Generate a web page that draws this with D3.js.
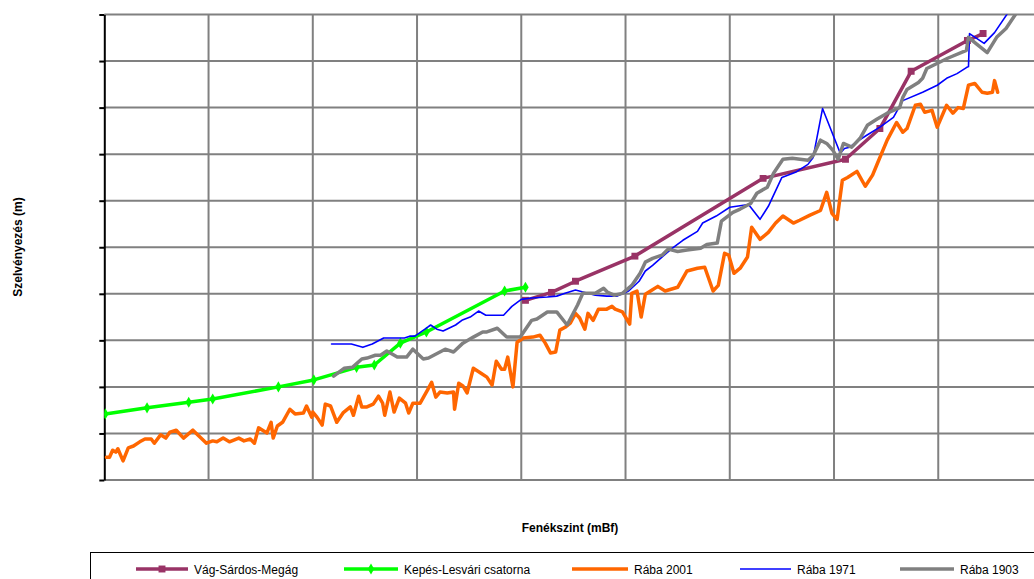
<!DOCTYPE html>
<html>
<head>
<meta charset="utf-8">
<script src="https://cdn.jsdelivr.net/npm/d3@7"></script>
<style>
  body { margin: 0; background: #fff; }
  svg { display: block; font-family: "Liberation Sans", Arial, sans-serif; }
</style>
</head>
<body>
<svg id="chart" width="1034" height="579"></svg>
<script>
// grid ticks (the original chart shows no tick labels)
const xTicks = d3.range(0, 91, 10);
const yTicks = d3.range(0, 101, 10);

// series values [x, y]
const vagSardos = [[40.4,38.6],[42.9,40.3],[45.2,42.7],[50.9,48.1],[63.2,64.8],[71.1,68.9],[74.4,75.5],[77.4,87.8],[82.8,94.4],[84.3,95.9]];

const kepesLesvari = [[0.1,14.2],[4.1,15.5],[8.1,16.7],[10.4,17.4],[16.7,20.0],[20.1,21.5],[24.2,24.2],[25.9,24.7],[28.4,29.4],[30.9,31.8],[38.4,40.6],[40.4,41.4]];

const raba2001 = [[0.2,4.9],[0.5,4.9],[0.8,6.4],[1.1,6.0],[1.3,6.7],[1.8,4.1],[2.3,6.9],[2.8,7.3],[3.4,8.2],[3.9,8.8],[4.5,8.8],[4.8,7.9],[5.4,9.7],[5.9,9.0],[6.3,10.3],[6.9,10.7],[7.6,9.0],[8.5,10.7],[9.1,9.4],[9.8,7.9],[10.4,8.4],[10.8,8.2],[11.4,9.0],[12.0,8.2],[12.9,9.0],[13.4,8.4],[14.0,8.8],[14.4,7.9],[14.8,11.2],[15.6,10.1],[16.0,12.4],[16.2,9.0],[16.6,11.6],[17.1,12.4],[17.8,15.2],[18.3,14.2],[19.1,14.4],[19.4,15.9],[19.9,13.5],[20.0,14.6],[20.4,13.5],[20.9,11.8],[21.2,16.3],[21.7,15.9],[22.3,12.4],[22.9,14.4],[23.6,15.7],[23.9,13.9],[24.4,18.0],[24.7,15.7],[25.2,15.7],[25.8,16.3],[26.3,18.0],[26.7,16.5],[26.9,13.9],[27.4,18.9],[27.8,14.6],[28.3,17.6],[28.9,16.5],[29.2,14.4],[29.6,16.5],[30.3,16.5],[31.0,19.3],[31.4,21.0],[31.8,17.8],[32.2,18.9],[32.9,18.7],[33.5,18.9],[33.6,15.2],[34.0,20.8],[34.4,20.2],[34.8,18.7],[35.4,24.0],[36.1,23.0],[36.7,22.1],[37.2,20.4],[37.6,25.5],[38.1,23.8],[38.4,23.8],[38.7,26.4],[39.2,20.0],[39.6,29.6],[40.2,30.5],[41.1,30.7],[41.8,31.1],[42.3,29.4],[42.8,27.3],[43.3,27.5],[43.7,32.2],[44.2,32.8],[44.7,33.7],[45.2,35.8],[45.6,34.8],[46.1,32.4],[46.4,35.8],[46.9,34.3],[47.4,36.7],[48.2,36.7],[48.7,37.3],[49.0,36.7],[49.7,36.1],[50.4,33.5],[50.6,40.1],[51.1,40.6],[51.5,35.0],[51.9,39.9],[52.4,40.6],[53.1,41.6],[53.8,40.6],[55.0,41.4],[55.9,44.9],[56.9,45.5],[57.6,45.7],[58.4,40.6],[58.9,41.8],[59.5,48.7],[59.9,48.3],[60.4,44.4],[61.0,45.5],[61.7,47.9],[62.1,54.3],[62.9,51.7],[63.7,53.2],[64.4,55.2],[65.1,56.7],[66.1,55.2],[66.7,55.8],[67.7,56.9],[68.7,57.9],[69.3,61.8],[69.8,57.3],[70.3,56.0],[70.8,64.4],[71.3,65.0],[72.2,66.3],[73.0,63.1],[73.7,65.5],[74.2,68.2],[75.1,73.0],[76.0,76.8],[76.6,74.7],[77.0,75.5],[77.8,80.5],[78.3,80.7],[78.7,79.0],[79.4,79.4],[79.9,75.8],[80.8,80.5],[81.4,78.8],[81.9,80.0],[82.4,79.8],[82.9,84.8],[83.5,85.2],[84.2,83.3],[84.7,83.1],[85.2,83.3],[85.4,85.8],[85.7,83.3]];

const raba1971 = [[21.8,29.2],[23.7,29.2],[24.8,28.5],[25.7,29.2],[26.8,30.5],[28.8,30.5],[29.3,30.9],[29.8,30.9],[31.0,32.8],[31.3,33.3],[31.9,32.4],[32.5,32.0],[33.7,33.3],[34.3,34.3],[35.1,35.0],[35.9,36.3],[36.6,35.4],[38.3,35.4],[39.1,37.3],[40.0,38.8],[41.0,39.1],[42.5,39.3],[43.4,39.5],[44.2,40.1],[45.2,40.8],[46.1,40.3],[47.1,39.7],[48.2,39.5],[49.2,39.5],[50.3,40.6],[51.3,42.7],[51.9,44.9],[52.6,46.1],[53.6,48.1],[54.5,49.8],[55.5,51.5],[56.9,53.4],[57.4,55.2],[58.7,56.7],[60.0,58.6],[61.8,59.2],[62.9,56.0],[63.7,58.8],[65.0,65.0],[66.3,66.1],[67.5,67.8],[68.0,69.3],[68.9,79.8],[70.6,70.2],[71.0,71.2],[71.5,71.5],[72.2,72.7],[73.1,74.0],[74.4,75.8],[75.7,77.9],[76.6,81.5],[78.5,83.3],[79.9,84.8],[80.8,86.3],[81.8,87.3],[82.7,88.6],[82.9,88.8],[83.0,95.9],[84.4,93.8],[85.4,96.1],[86.7,100.4]];

const raba1903 = [[22.0,22.3],[23.0,24.0],[23.8,24.2],[24.7,26.0],[25.2,26.2],[26.0,26.8],[26.5,26.8],[27.1,27.7],[28.1,26.4],[29.0,26.4],[29.6,28.1],[30.6,26.0],[31.1,26.2],[32.7,28.1],[33.5,27.5],[34.4,29.4],[35.4,30.7],[36.3,31.8],[36.7,31.8],[37.7,32.6],[38.6,30.7],[39.9,30.7],[41.0,34.3],[41.5,34.6],[42.5,36.1],[43.4,36.1],[44.4,33.3],[45.4,37.6],[45.9,40.1],[47.1,40.1],[47.9,41.2],[48.3,40.3],[48.9,39.7],[49.7,40.1],[50.6,41.8],[51.4,44.4],[51.9,46.8],[52.6,47.6],[53.5,48.3],[54.1,49.6],[55.0,49.1],[55.9,49.4],[57.2,49.8],[57.8,50.6],[58.8,50.9],[59.2,55.6],[60.3,57.5],[61.0,58.2],[62.0,59.4],[62.6,61.6],[63.6,62.9],[64.2,65.9],[65.1,68.9],[66.0,69.1],[67.5,68.7],[68.0,69.7],[68.7,73.0],[69.3,72.3],[69.9,70.8],[70.4,68.9],[70.9,72.3],[71.7,71.5],[72.5,73.4],[73.2,76.2],[74.1,77.5],[75.1,78.8],[76.3,80.0],[76.6,82.2],[77.0,83.9],[78.1,85.4],[78.5,86.3],[78.9,88.4],[80.9,90.6],[82.7,92.3],[82.9,95.1],[83.6,93.8],[84.7,91.8],[85.6,95.1],[86.5,97.0],[87.4,100.0]];

const seriesNames = ["Vág-Sárdos-Megág", "Kepés-Lesvári csatorna", "Rába 2001", "Rába 1971", "Rába 1903"];
const seriesData = [vagSardos, kepesLesvari, raba2001, raba1971, raba1903];

const styles = [
  {color: "#993366", width: 3.5, marker: "square"},
  {color: "#00ff00", width: 3.5, marker: "diamond"},
  {color: "#ff6600", width: 3.5, marker: null},
  {color: "#0000ff", width: 1.6, marker: null},
  {color: "#808080", width: 3.5, marker: null}
];

const svg = d3.select("#chart");

const x = d3.scaleLinear().domain([0, 90]).range([104.3, 1042.5]);
const y = d3.scaleLinear().domain([0, 100]).range([480, 14.5]);

// grid
const grid = svg.append("g");
grid.selectAll(".hg")
  .data(yTicks)
  .join("line")
  .attr("x1", x(0)).attr("x2", x(90))
  .attr("y1", d => y(d)).attr("y2", d => y(d))
  .attr("stroke", "#808080")
  .attr("stroke-width", 2);
grid.selectAll(".vg")
  .data(xTicks.slice(1))
  .join("line")
  .attr("x1", d => x(d)).attr("x2", d => x(d))
  .attr("y1", y(0)).attr("y2", y(100))
  .attr("stroke", "#808080")
  .attr("stroke-width", 2);

// y axis, no labels
const yAxis = svg.append("g")
  .attr("transform", "translate(" + x(0) + ",0)")
  .call(d3.axisLeft(y).tickValues(yTicks).tickSize(5).tickSizeOuter(0).tickFormat(""));
yAxis.select(".domain").attr("stroke", "#000").attr("stroke-width", 2);
yAxis.selectAll(".tick line").attr("stroke", "#000").attr("stroke-width", 2);

svg.append("clipPath").attr("id", "plotClip")
  .append("rect")
  .attr("x", x(0)).attr("y", y(100))
  .attr("width", x(90) - x(0)).attr("height", y(0) - y(100));

const line = d3.line()
  .x(d => x(d[0]))
  .y(d => y(d[1]));

const plot = svg.append("g").attr("clip-path", "url(#plotClip)");

function markerPath(kind) {
  if (kind === "square") return d3.symbol(d3.symbolSquare, 48)();
  if (kind === "diamond") return d3.symbol(d3.symbolDiamond, 36)();
  return null;
}

seriesData.forEach((data, i) => {
  const st = styles[i];
  plot.append("path")
    .datum(data)
    .attr("d", line)
    .attr("fill", "none")
    .attr("stroke", st.color)
    .attr("stroke-width", st.width)
    .attr("stroke-linejoin", "round")
    .attr("stroke-linecap", "round");
  if (st.marker) {
    plot.selectAll(".m" + i)
      .data(data)
      .join("path")
      .attr("d", markerPath(st.marker))
      .attr("transform", d => "translate(" + x(d[0]) + "," + y(d[1]) + ")")
      .attr("fill", st.color);
  }
});

// axis titles
svg.append("text")
  .attr("x", 570).attr("y", 532)
  .attr("text-anchor", "middle")
  .attr("font-size", 12).attr("font-weight", "bold")
  .text("Fenékszint (mBf)");

svg.append("text")
  .attr("transform", "translate(22,247) rotate(-90)")
  .attr("text-anchor", "middle")
  .attr("font-size", 12).attr("font-weight", "bold")
  .text("Szelvényezés (m)");

// legend
svg.append("rect")
  .attr("x", 90.5).attr("y", 552.5)
  .attr("width", 1000).attr("height", 60)
  .attr("fill", "none")
  .attr("stroke", "#000")
  .attr("stroke-width", 1);

const legendX = [136, 344, 572, 740, 900];
const legendLen = [52, 54, 56, 51, 54];
seriesNames.forEach((name, i) => {
  const st = styles[i];
  const g = svg.append("g").attr("transform", "translate(" + legendX[i] + ",569)");
  g.append("line")
    .attr("x1", 0).attr("x2", legendLen[i])
    .attr("stroke", st.color)
    .attr("stroke-width", st.width);
  if (st.marker) {
    g.append("path")
      .attr("d", markerPath(st.marker))
      .attr("transform", "translate(" + legendLen[i] / 2 + ",0)")
      .attr("fill", st.color);
  }
  g.append("text")
    .attr("x", legendLen[i] + 6).attr("y", 4.5)
    .attr("font-size", 12)
    .text(name);
});
</script>
</body>
</html>
